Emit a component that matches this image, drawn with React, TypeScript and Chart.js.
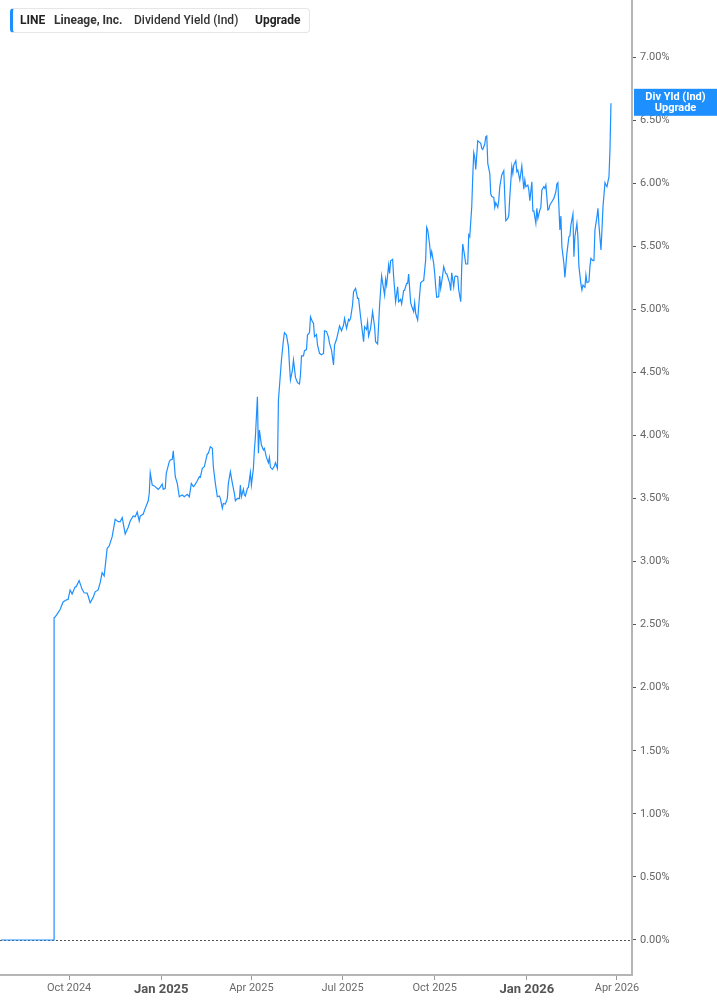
import React, { useEffect, useRef } from "react";
import { Chart, registerables } from "chart.js";

Chart.register(...registerables);

// Dividend Yield (Ind) for LINE, in percent
const dates: string[] = [
  "2024-07-25", "2024-09-16", "2024-09-16", "2024-09-17", "2024-09-20", "2024-09-22", "2024-09-25", "2024-09-28", "2024-09-30",
  "2024-10-02", "2024-10-04", "2024-10-07", "2024-10-08", "2024-10-11", "2024-10-14", "2024-10-16", "2024-10-19", "2024-10-20",
  "2024-10-22", "2024-10-25", "2024-10-27", "2024-10-30", "2024-11-01", "2024-11-03", "2024-11-05", "2024-11-08", "2024-11-10",
  "2024-11-13", "2024-11-16", "2024-11-19", "2024-11-21", "2024-11-23", "2024-11-26", "2024-11-29", "2024-12-01", "2024-12-04",
  "2024-12-06", "2024-12-08", "2024-12-10", "2024-12-11", "2024-12-14", "2024-12-16", "2024-12-19", "2024-12-20", "2024-12-21",
  "2024-12-23", "2024-12-25", "2024-12-29", "2024-12-31", "2025-01-02", "2025-01-03", "2025-01-05", "2025-01-06", "2025-01-09",
  "2025-01-10", "2025-01-12", "2025-01-13", "2025-01-15", "2025-01-17", "2025-01-19", "2025-01-20", "2025-01-22", "2025-01-24",
  "2025-01-27", "2025-01-29", "2025-01-31", "2025-02-02", "2025-02-03", "2025-02-06", "2025-02-08", "2025-02-09", "2025-02-11",
  "2025-02-13", "2025-02-16", "2025-02-17", "2025-02-19", "2025-02-21", "2025-02-22", "2025-02-24", "2025-02-26", "2025-02-28",
  "2025-03-01", "2025-03-03", "2025-03-04", "2025-03-06", "2025-03-08", "2025-03-09", "2025-03-11", "2025-03-13", "2025-03-15",
  "2025-03-16", "2025-03-18", "2025-03-20", "2025-03-21", "2025-03-22", "2025-03-24", "2025-03-25", "2025-03-26", "2025-03-28",
  "2025-03-29", "2025-03-31", "2025-04-01", "2025-04-03", "2025-04-04", "2025-04-05", "2025-04-07", "2025-04-08", "2025-04-09",
  "2025-04-11", "2025-04-13", "2025-04-14", "2025-04-16", "2025-04-18", "2025-04-19", "2025-04-20", "2025-04-22", "2025-04-24",
  "2025-04-25", "2025-04-27", "2025-04-28", "2025-04-29", "2025-05-01", "2025-05-03", "2025-05-04", "2025-05-06", "2025-05-08",
  "2025-05-09", "2025-05-10", "2025-05-12", "2025-05-13", "2025-05-14", "2025-05-15", "2025-05-17", "2025-05-19", "2025-05-20",
  "2025-05-21", "2025-05-23", "2025-05-24", "2025-05-26", "2025-05-27", "2025-05-29", "2025-05-30", "2025-06-01", "2025-06-02",
  "2025-06-03", "2025-06-05", "2025-06-06", "2025-06-08", "2025-06-10", "2025-06-12", "2025-06-13", "2025-06-15", "2025-06-17",
  "2025-06-18", "2025-06-20", "2025-06-22", "2025-06-23", "2025-06-25", "2025-06-27", "2025-06-28", "2025-06-30", "2025-07-02",
  "2025-07-03", "2025-07-05", "2025-07-07", "2025-07-08", "2025-07-09", "2025-07-11", "2025-07-12", "2025-07-14", "2025-07-16",
  "2025-07-17", "2025-07-19", "2025-07-21", "2025-07-22", "2025-07-23", "2025-07-25", "2025-07-26", "2025-07-27", "2025-07-29",
  "2025-07-31", "2025-08-02", "2025-08-03", "2025-08-05", "2025-08-06", "2025-08-07", "2025-08-09", "2025-08-10", "2025-08-12",
  "2025-08-13", "2025-08-14", "2025-08-16", "2025-08-17", "2025-08-18", "2025-08-20", "2025-08-21", "2025-08-23", "2025-08-25",
  "2025-08-26", "2025-08-28", "2025-08-29", "2025-08-31", "2025-09-01", "2025-09-03", "2025-09-04", "2025-09-05", "2025-09-07",
  "2025-09-08", "2025-09-10", "2025-09-11", "2025-09-12", "2025-09-14", "2025-09-15", "2025-09-17", "2025-09-19", "2025-09-20",
  "2025-09-22", "2025-09-23", "2025-09-24", "2025-09-26", "2025-09-27", "2025-09-28", "2025-09-30", "2025-10-01", "2025-10-02",
  "2025-10-03", "2025-10-05", "2025-10-06", "2025-10-07", "2025-10-09", "2025-10-10", "2025-10-12", "2025-10-13", "2025-10-14",
  "2025-10-16", "2025-10-17", "2025-10-18", "2025-10-20", "2025-10-21", "2025-10-22", "2025-10-24", "2025-10-25", "2025-10-27",
  "2025-10-28", "2025-10-29", "2025-10-31", "2025-11-01", "2025-11-03", "2025-11-04", "2025-11-05", "2025-11-07", "2025-11-08",
  "2025-11-09", "2025-11-10", "2025-11-11", "2025-11-13", "2025-11-14", "2025-11-16", "2025-11-17", "2025-11-18", "2025-11-20",
  "2025-11-21", "2025-11-22", "2025-11-23", "2025-11-25", "2025-11-26", "2025-11-27", "2025-11-29", "2025-11-30", "2025-12-01",
  "2025-12-03", "2025-12-04", "2025-12-05", "2025-12-07", "2025-12-09", "2025-12-10", "2025-12-11", "2025-12-13", "2025-12-14",
  "2025-12-15", "2025-12-17", "2025-12-18", "2025-12-19", "2025-12-21", "2025-12-22", "2025-12-23", "2025-12-25", "2025-12-26",
  "2025-12-27", "2025-12-29", "2025-12-30", "2025-12-31", "2026-01-02", "2026-01-03", "2026-01-04", "2026-01-06", "2026-01-07",
  "2026-01-08", "2026-01-10", "2026-01-11", "2026-01-12", "2026-01-14", "2026-01-15", "2026-01-16", "2026-01-18", "2026-01-19",
  "2026-01-20", "2026-01-22", "2026-01-23", "2026-01-24", "2026-01-26", "2026-01-27", "2026-01-28", "2026-01-30", "2026-01-31",
  "2026-02-01", "2026-02-03", "2026-02-04", "2026-02-05", "2026-02-07", "2026-02-08", "2026-02-10", "2026-02-12", "2026-02-13",
  "2026-02-14", "2026-02-16", "2026-02-17", "2026-02-18", "2026-02-20", "2026-02-21", "2026-02-22", "2026-02-24", "2026-02-25",
  "2026-02-26", "2026-02-28", "2026-03-01", "2026-03-02", "2026-03-04", "2026-03-05", "2026-03-06", "2026-03-08", "2026-03-09",
  "2026-03-10", "2026-03-12", "2026-03-13", "2026-03-14", "2026-03-16", "2026-03-17", "2026-03-18", "2026-03-20", "2026-03-21",
  "2026-03-22", "2026-03-24", "2026-03-25", "2026-03-26",
];

const divYield: number[] = [
  0, 0, 2.555, 2.56, 2.595, 2.62, 2.68, 2.695, 2.70,
  2.775, 2.743, 2.80, 2.80, 2.85, 2.78, 2.753, 2.75, 2.727,
  2.674, 2.716, 2.76, 2.775, 2.833, 2.912, 2.886, 3.105, 3.123,
  3.197, 3.335, 3.316, 3.316, 3.348, 3.219, 3.272, 3.322, 3.361,
  3.356, 3.393, 3.322, 3.361, 3.377, 3.422, 3.482, 3.54, 3.705,
  3.607, 3.60, 3.573, 3.59, 3.615, 3.573, 3.58, 3.70, 3.792,
  3.805, 3.81, 3.879, 3.673, 3.62, 3.514, 3.52, 3.528, 3.514,
  3.533, 3.514, 3.62, 3.594, 3.60, 3.641, 3.673, 3.668, 3.739,
  3.752, 3.853, 3.858, 3.911, 3.898, 3.752, 3.62, 3.514, 3.52,
  3.501, 3.422, 3.461, 3.456, 3.501, 3.62, 3.712, 3.62, 3.54,
  3.482, 3.501, 3.50, 3.607, 3.514, 3.573, 3.528, 3.52, 3.58,
  3.588, 3.705, 3.607, 3.739, 3.885, 3.99, 4.307, 3.858, 4.043,
  3.924, 3.885, 3.897, 3.826, 3.784, 3.826, 3.747, 3.731, 3.758,
  3.784, 3.739, 4.281, 4.386, 4.598, 4.757, 4.815, 4.796, 4.704,
  4.559, 4.44, 4.519, 4.598, 4.532, 4.46, 4.418, 4.408, 4.479,
  4.63, 4.63, 4.672, 4.68, 4.796, 4.815, 4.941, 4.90, 4.89,
  4.783, 4.80, 4.717, 4.651, 4.64, 4.65, 4.83, 4.825, 4.778,
  4.73, 4.677, 4.559, 4.717, 4.762, 4.83, 4.868, 4.83, 4.875,
  4.928, 4.849, 4.92, 4.91, 4.928, 5.034, 5.14, 5.166, 5.086,
  5.086, 4.941, 4.809, 4.743, 4.862, 4.84, 4.90, 4.788, 4.849,
  4.981, 4.862, 4.743, 4.725, 4.875, 5.034, 5.264, 5.211, 5.113,
  5.237, 5.192, 5.351, 5.285, 5.385, 5.396, 5.258, 5.06, 5.179,
  5.06, 5.079, 5.042, 5.148, 5.153, 5.206, 5.206, 5.28, 5.053,
  5.026, 4.981, 5.053, 4.968, 4.915, 5.02, 5.211, 5.224, 5.227,
  5.391, 5.65, 5.629, 5.51, 5.417, 5.457, 5.364, 5.285, 5.179,
  5.095, 5.10, 5.264, 5.166, 5.272, 5.338, 5.285, 5.28, 5.258,
  5.206, 5.148, 5.29, 5.179, 5.258, 5.264, 5.258, 5.153, 5.06,
  5.338, 5.518, 5.417, 5.359, 5.359, 5.589, 5.575, 5.813, 6.051,
  6.241, 6.205, 6.109, 6.336, 6.329, 6.315, 6.276, 6.268, 6.31,
  6.368, 6.374, 6.157, 6.077, 5.914, 5.893, 5.887, 5.808, 5.845,
  5.808, 5.866, 5.972, 6.065, 6.099, 5.893, 5.702, 5.72, 5.747,
  5.893, 6.131, 6.077, 6.144, 6.178, 6.091, 6.104, 6.025, 6.077,
  6.136, 5.952, 6.025, 5.972, 5.985, 5.946, 5.861, 6.011, 5.78,
  5.78, 5.681, 5.80, 5.72, 5.787, 5.808, 5.946, 5.972, 5.959,
  5.985, 5.787, 5.793, 5.827, 5.853, 5.866, 5.879, 5.932, 5.993,
  6.004, 5.629, 5.74, 5.496, 5.364, 5.253, 5.443, 5.575, 5.581,
  5.668, 5.755, 5.417, 5.575, 5.681, 5.575, 5.338, 5.20, 5.153,
  5.192, 5.174, 5.272, 5.211, 5.219, 5.338, 5.404, 5.385, 5.385,
  5.629, 5.734, 5.80, 5.668, 5.47, 5.629, 5.808, 6.004, 5.985,
  5.972, 6.051, 6.263, 6.633,
];

const xTickDates: string[] = ["2024-10-01", "2025-01-01", "2025-04-01", "2025-07-01", "2025-10-01", "2026-01-01", "2026-04-01"];
const xTickLabels: string[] = ["Oct 2024", "Jan 2025", "Apr 2025", "Jul 2025", "Oct 2025", "Jan 2026", "Apr 2026"];
const yTickValues: number[] = [0, 0.5, 1, 1.5, 2, 2.5, 3, 3.5, 4, 4.5, 5, 5.5, 6, 6.5, 7];
const xRange: string[] = ["2024-07-24", "2026-04-16"];
const yRange: number[] = [-0.2775, 7.452];

const LINE_COLOR = "#1e8fff";
const FONT = "Roboto, 'Noto Sans', sans-serif";

const toDay = (s: string) => {
  const [y, m, d] = s.split("-").map(Number);
  return Date.UTC(y, m - 1, d) / 86400000;
};

export default function App() {
  const ref = useRef<HTMLCanvasElement | null>(null);

  useEffect(() => {
    document.body.style.margin = "0";
    const canvas = ref.current;
    if (!canvas) return;
    const points = dates.map((d, i) => ({ x: toDay(d), y: divYield[i] }));
    const tickDays = xTickDates.map(toDay);
    const labelFor = (v: number) => {
      const i = tickDays.indexOf(v);
      return i >= 0 ? xTickLabels[i] : "";
    };

    const zeroLine = {
      id: "zeroLine",
      beforeDatasetsDraw(chart: any) {
        const { ctx, chartArea } = chart;
        const y = Math.round(chart.scales.y.getPixelForValue(0)) + 0.5;
        ctx.save();
        ctx.strokeStyle = "#555";
        ctx.lineWidth = 1;
        ctx.setLineDash([2, 2]);
        ctx.beginPath();
        ctx.moveTo(chartArea.left, y);
        ctx.lineTo(chartArea.right, y);
        ctx.stroke();
        ctx.restore();
      },
    };

    const lastLabel = {
      id: "lastLabel",
      afterDraw(chart: any) {
        const { ctx, chartArea } = chart;
        const y = chart.scales.y.getPixelForValue(divYield[divYield.length - 1]);
        const x0 = chartArea.right + 2;
        const w = chart.width - x0;
        ctx.save();
        ctx.fillStyle = LINE_COLOR;
        ctx.fillRect(x0, y - 14.5, w, 27);
        ctx.fillStyle = "#fff";
        ctx.font = `bold 11px ${FONT}`;
        ctx.textAlign = "center";
        ctx.textBaseline = "middle";
        ctx.fillText("Div Yld (Ind)", x0 + w / 2, y - 6.5);
        ctx.fillText("Upgrade", x0 + w / 2, y + 5);
        ctx.restore();
      },
    };

    const chart = new Chart(canvas, {
      type: "line",
      data: {
        datasets: [
          {
            data: points,
            borderColor: LINE_COLOR,
            borderWidth: 1.2,
            pointRadius: 0,
            tension: 0,
            fill: false,
          },
        ],
      },
      options: {
        responsive: false,
        animation: false,
        devicePixelRatio: 1,
        layout: { padding: 0 },
        plugins: { legend: { display: false }, tooltip: { enabled: false }, title: { display: false } },
        scales: {
          x: {
            type: "linear",
            min: toDay(xRange[0]),
            max: toDay(xRange[1]),
            afterBuildTicks: (scale: any) => {
              scale.ticks = tickDays.map((v) => ({ value: v }));
            },
            afterFit: (scale: any) => {
              scale.height = 30;
              scale.paddingLeft = 0;
              scale.paddingRight = 0;
            },
            grid: { drawOnChartArea: false, drawTicks: true, tickLength: 5, tickColor: "#9a9a9a", tickWidth: 1 },
            border: { display: true, color: "#b5b5b5", width: 2 },
            ticks: {
              autoSkip: false,
              maxRotation: 0,
              padding: 2,
              callback: (v: any) => labelFor(Number(v)),
              color: (ctx: any) => (ctx.tick && labelFor(ctx.tick.value).startsWith("Jan") ? "#555" : "#6a6a6a"),
              font: (ctx: any) =>
                ctx.tick && labelFor(ctx.tick.value).startsWith("Jan")
                  ? { family: FONT, size: 13, weight: "bold" }
                  : { family: FONT, size: 11 },
            },
          },
          y: {
            type: "linear",
            position: "right",
            min: yRange[0],
            max: yRange[1],
            afterBuildTicks: (scale: any) => {
              scale.ticks = yTickValues.map((v) => ({ value: v }));
            },
            afterFit: (scale: any) => {
              scale.width = 85;
              scale.paddingTop = 0;
              scale.paddingBottom = 0;
            },
            grid: { drawOnChartArea: false, drawTicks: true, tickLength: 4, tickColor: "#555", tickWidth: 1 },
            border: { display: true, color: "#b5b5b5", width: 2 },
            ticks: {
              padding: 4,
              color: "#666",
              font: { family: FONT, size: 11 },
              callback: (v: any) => Number(v).toFixed(2) + "%",
            },
          },
        },
      },
      plugins: [zeroLine, lastLabel],
    } as any);

    return () => chart.destroy();
  }, []);

  const spanBase: React.CSSProperties = { position: "absolute", top: 0, lineHeight: "23px", whiteSpace: "nowrap" };

  return (
    <div style={{ position: "fixed", left: 0, top: 0, width: 717, height: 1005, background: "#fff" }}>
      <canvas ref={ref} width={717} height={1005} style={{ position: "absolute", left: 0, top: 0 }} />
      <div
        style={{
          position: "absolute",
          left: 10,
          top: 8,
          width: 300,
          height: 25,
          boxSizing: "border-box",
          border: "1px solid #e6e6e6",
          borderLeft: `3px solid ${LINE_COLOR}`,
          borderRadius: 4,
          background: "#fff",
          fontFamily: FONT,
          fontSize: 12,
          color: "#222",
        }}
      >
        <span style={{ ...spanBase, left: 7, fontWeight: 700 }}>LINE</span>
        <span style={{ ...spanBase, left: 41, fontWeight: 700, color: "#333" }}>Lineage, Inc.</span>
        <span style={{ ...spanBase, left: 121, fontWeight: 500, color: "#333" }}>Dividend Yield (Ind)</span>
        <span style={{ ...spanBase, left: 242, fontWeight: 700 }}>Upgrade</span>
      </div>
    </div>
  );
}
